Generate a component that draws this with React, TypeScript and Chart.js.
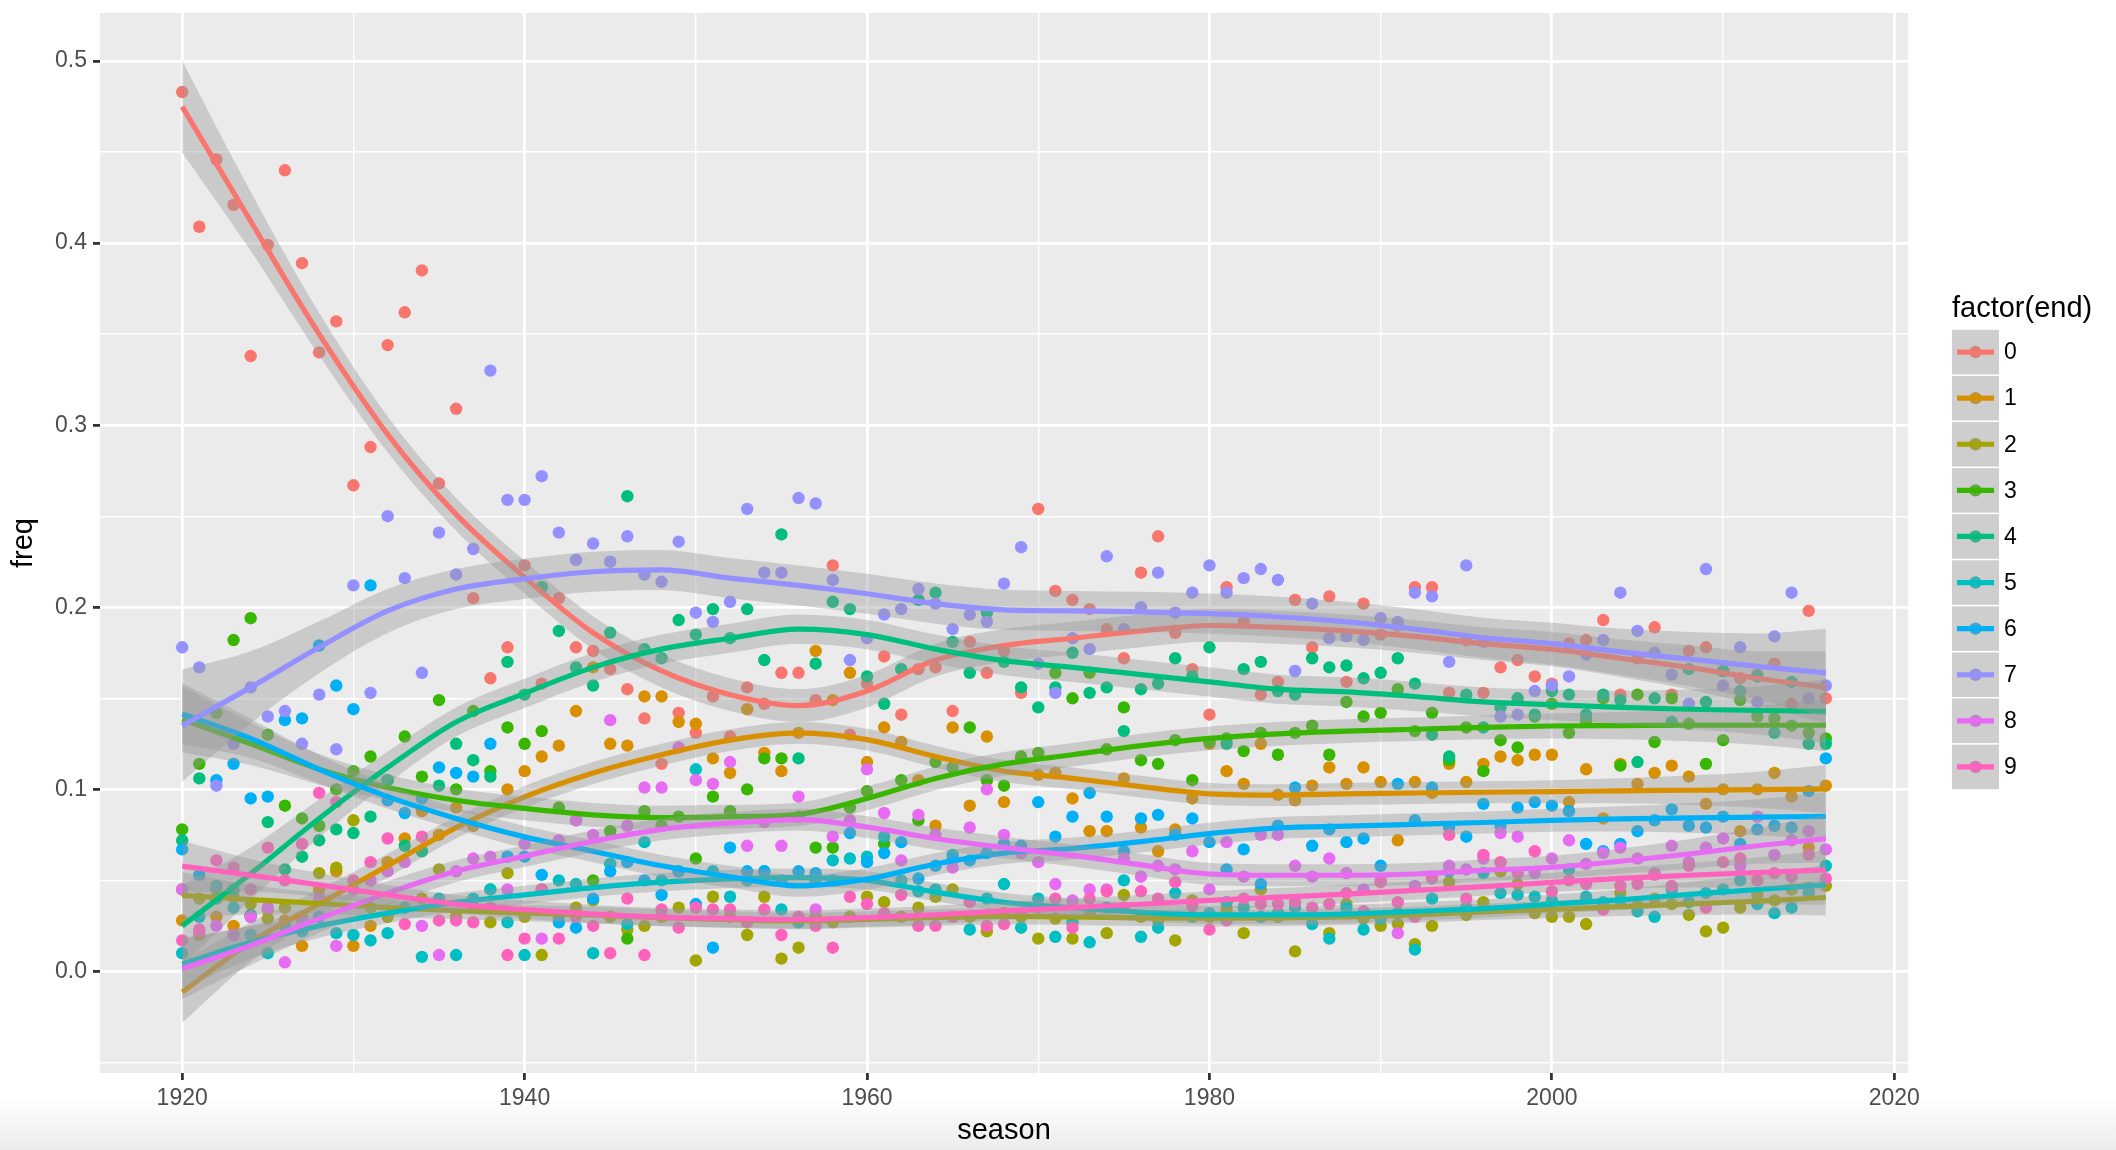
import React, { useEffect, useRef } from 'react';
import Chart from 'chart.js/auto';

const FONT = "'Liberation Sans', Arial, Helvetica, sans-serif";

// categories
const endFactors = ['0', '1', '2', '3', '4', '5', '6', '7', '8', '9'];
const colors = ['#F8766D', '#D89000', '#A3A500', '#39B600', '#00BF7D', '#00BFC4', '#00B0F6', '#9590FF', '#E76BF3', '#FF62BC'];
const seasons = Array.from({ length: 97 }, (_, i) => 1920 + i);

// tick breaks
const xTicks = [1920, 1930, 1940, 1950, 1960, 1970, 1980, 1990, 2000, 2010, 2020];
const yTicks = [-0.05, 0, 0.05, 0.1, 0.15, 0.2, 0.25, 0.3, 0.35, 0.4, 0.45, 0.5];

// observed freq per season (1920..2016) for each end
const end0 = [0.483,0.409,0.446,0.421,0.338,0.399,0.440,0.389,0.340,0.357,
  0.267,0.288,0.344,0.362,0.385,0.268,0.309,0.205,0.161,0.178,
  0.223,0.158,0.205,0.178,0.176,0.166,0.155,0.139,0.114,0.142,
  0.131,0.151,0.129,0.156,0.147,0.164,0.164,0.149,0.223,0.130,
  0.158,0.173,0.141,0.166,0.167,0.143,0.181,0.164,0.176,0.153,
  0.254,0.209,0.204,0.199,0.188,0.172,0.219,0.239,0.186,0.166,
  0.141,0.211,0.192,0.152,0.159,0.204,0.178,0.206,0.159,0.202,
  0.185,0.190,0.211,0.211,0.153,0.182,0.153,0.167,0.171,0.162,
  0.158,0.180,0.182,0.193,0.152,0.172,0.189,0.152,0.176,0.178,
  0.165,0.161,0.163,0.169,0.147,0.198,0.150];
const end1 = [0.028,0.020,0.030,0.025,0.030,0.034,0.028,0.014,0.045,0.055,
  0.014,0.025,0.060,0.073,0.088,0.075,0.090,0.080,0.045,0.100,
  0.110,0.118,0.124,0.143,0.167,0.125,0.124,0.151,0.151,0.137,
  0.136,0.117,0.109,0.144,0.120,0.110,0.131,0.176,0.149,0.164,
  0.115,0.134,0.126,0.105,0.080,0.134,0.091,0.129,0.093,0.117,
  0.108,0.109,0.095,0.077,0.077,0.106,0.079,0.066,0.078,0.095,
  0.125,0.110,0.103,0.125,0.097,0.094,0.102,0.112,0.103,0.112,
  0.104,0.072,0.104,0.098,0.114,0.104,0.114,0.118,0.116,0.119,
  0.119,0.093,0.111,0.084,0.114,0.103,0.109,0.113,0.107,0.092,
  0.100,0.077,0.100,0.109,0.096,0.068,0.102];
const end2 = [0.045,0.040,0.045,0.041,0.037,0.029,0.035,0.030,0.054,0.057,
  0.083,0.035,0.030,0.035,0.040,0.056,0.030,0.035,0.027,0.054,
  0.030,0.009,0.030,0.035,0.039,0.030,0.023,0.025,0.030,0.035,
  0.006,0.041,0.030,0.020,0.041,0.007,0.013,0.030,0.027,0.030,
  0.041,0.038,0.030,0.035,0.041,0.045,0.030,0.022,0.032,0.030,
  0.018,0.029,0.018,0.032,0.021,0.042,0.030,0.028,0.017,0.039,
  0.030,0.034,0.021,0.045,0.030,0.011,0.030,0.021,0.037,0.029,
  0.025,0.026,0.015,0.025,0.049,0.031,0.038,0.055,0.048,0.032,
  0.030,0.030,0.026,0.036,0.043,0.036,0.040,0.037,0.031,0.022,
  0.024,0.035,0.042,0.039,0.045,0.046,0.047];
const end3 = [0.078,0.114,0.142,0.182,0.194,0.130,0.091,0.084,0.080,0.100,
  0.110,0.118,0.105,0.129,0.107,0.149,0.100,0.143,0.110,0.134,
  0.125,0.132,0.090,0.083,0.050,0.077,0.018,0.088,0.080,0.085,
  0.062,0.096,0.088,0.100,0.117,0.117,0.085,0.068,0.068,0.090,
  0.099,0.070,0.105,0.083,0.115,0.112,0.134,0.105,0.102,0.118,
  0.120,0.164,0.150,0.164,0.122,0.145,0.116,0.114,0.127,0.105,
  0.126,0.128,0.121,0.131,0.119,0.131,0.135,0.119,0.148,0.140,
  0.142,0.155,0.132,0.142,0.116,0.134,0.110,0.127,0.123,0.140,
  0.147,0.131,0.138,0.150,0.113,0.152,0.126,0.150,0.136,0.114,
  0.127,0.149,0.140,0.139,0.135,0.131,0.128];
const end4 = [0.072,0.106,0.040,0.045,0.031,0.082,0.056,0.063,0.072,0.078,
  0.076,0.085,0.105,0.069,0.066,0.102,0.125,0.116,0.107,0.170,
  0.152,0.211,0.187,0.167,0.157,0.186,0.261,0.177,0.172,0.193,
  0.185,0.199,0.183,0.199,0.171,0.240,0.117,0.169,0.203,0.199,
  0.162,0.147,0.166,0.204,0.208,0.181,0.164,0.197,0.170,0.156,
  0.145,0.156,0.175,0.153,0.156,0.132,0.155,0.158,0.172,0.162,
  0.178,0.125,0.166,0.170,0.154,0.152,0.172,0.167,0.168,0.161,
  0.164,0.172,0.158,0.130,0.118,0.152,0.134,0.145,0.150,0.141,
  0.154,0.152,0.141,0.152,0.149,0.115,0.150,0.137,0.166,0.148,
  0.165,0.154,0.162,0.131,0.159,0.125,0.125];
const end5 = [0.010,0.030,0.047,0.035,0.020,0.010,0.025,0.022,0.030,0.021,
  0.020,0.017,0.021,0.035,0.008,0.040,0.009,0.040,0.045,0.027,
  0.009,0.045,0.050,0.048,0.010,0.059,0.026,0.071,0.050,0.055,
  0.111,0.055,0.041,0.050,0.055,0.034,0.027,0.050,0.061,0.062,
  0.063,0.074,0.050,0.044,0.045,0.064,0.023,0.040,0.048,0.024,
  0.040,0.019,0.027,0.016,0.035,0.050,0.019,0.024,0.043,0.030,
  0.032,0.038,0.035,0.030,0.032,0.035,0.026,0.018,0.035,0.023,
  0.029,0.032,0.012,0.040,0.055,0.035,0.054,0.043,0.042,0.041,
  0.039,0.056,0.041,0.038,0.039,0.033,0.030,0.045,0.038,0.043,
  0.045,0.050,0.037,0.032,0.035,0.043,0.058];
const end6 = [0.067,0.053,0.105,0.114,0.095,0.096,0.138,0.139,0.179,0.157,
  0.144,0.212,0.094,0.087,0.095,0.112,0.109,0.107,0.125,0.063,
  0.063,0.053,0.027,0.024,0.040,0.055,0.060,0.050,0.042,0.055,
  0.037,0.013,0.068,0.055,0.055,0.050,0.055,0.054,0.050,0.076,
  0.060,0.065,0.071,0.051,0.058,0.062,0.061,0.065,0.070,0.069,
  0.093,0.074,0.085,0.098,0.085,0.066,0.084,0.086,0.075,0.084,
  0.071,0.056,0.067,0.048,0.080,0.101,0.069,0.078,0.071,0.073,
  0.058,0.103,0.083,0.101,0.079,0.074,0.092,0.080,0.090,0.093,
  0.091,0.088,0.070,0.066,0.070,0.077,0.083,0.089,0.080,0.079,
  0.085,0.070,0.078,0.080,0.079,0.099,0.117];
const end7 = [0.178,0.167,0.102,0.125,0.156,0.140,0.143,0.125,0.152,0.122,
  0.212,0.153,0.250,0.216,0.164,0.241,0.218,0.232,0.330,0.259,
  0.259,0.272,0.241,0.226,0.235,0.225,0.239,0.218,0.214,0.236,
  0.197,0.192,0.203,0.254,0.219,0.219,0.260,0.257,0.215,0.171,
  0.183,0.196,0.199,0.210,0.202,0.188,0.196,0.192,0.213,0.233,
  0.169,0.153,0.183,0.177,0.228,0.188,0.200,0.219,0.197,0.208,
  0.223,0.208,0.216,0.221,0.215,0.165,0.202,0.183,0.184,0.182,
  0.194,0.192,0.208,0.206,0.170,0.223,0.181,0.140,0.141,0.154,
  0.157,0.162,0.174,0.182,0.208,0.187,0.175,0.163,0.147,0.221,
  0.157,0.178,0.148,0.184,0.208,0.150,0.157];
const end8 = [0.045,0.022,0.025,0.020,0.030,0.035,0.005,0.028,0.040,0.014,
  0.045,0.050,0.055,0.060,0.025,0.009,0.055,0.062,0.063,0.045,
  0.070,0.018,0.072,0.083,0.075,0.138,0.080,0.101,0.101,0.123,
  0.105,0.103,0.115,0.069,0.082,0.069,0.096,0.034,0.074,0.083,
  0.111,0.087,0.061,0.086,0.075,0.057,0.079,0.100,0.075,0.065,
  0.060,0.048,0.039,0.045,0.045,0.062,0.052,0.058,0.056,0.066,
  0.045,0.071,0.052,0.075,0.075,0.058,0.052,0.062,0.054,0.045,
  0.050,0.021,0.047,0.051,0.058,0.056,0.062,0.076,0.074,0.054,
  0.062,0.072,0.059,0.065,0.068,0.062,0.054,0.069,0.060,0.068,
  0.073,0.058,0.085,0.064,0.072,0.077,0.067];
const end9 = [0.017,0.023,0.061,0.057,0.045,0.068,0.050,0.070,0.098,0.093,
  0.050,0.060,0.073,0.026,0.074,0.028,0.028,0.027,0.035,0.009,
  0.018,0.045,0.018,0.030,0.025,0.010,0.040,0.009,0.034,0.024,
  0.035,0.034,0.034,0.027,0.034,0.020,0.030,0.025,0.013,0.041,
  0.037,0.032,0.042,0.025,0.025,0.030,0.038,0.025,0.026,0.032,
  0.035,0.040,0.024,0.040,0.044,0.035,0.044,0.040,0.049,0.036,
  0.023,0.028,0.040,0.037,0.037,0.038,0.035,0.037,0.043,0.033,
  0.049,0.038,0.030,0.052,0.075,0.040,0.064,0.060,0.054,0.066,
  0.044,0.050,0.048,0.034,0.047,0.048,0.053,0.047,0.058,0.035,
  0.060,0.062,0.050,0.054,0.052,0.064,0.051];

// smoothed (loess) curve read at these seasons
const smoothSeasons = [1920,1924,1928,1932,1936,1940,1944,1948,1952,1956,1960,1964,1968,1972,1976,1980,1984,1988,1992,1996,2000,2004,2008,2012,2016];
const fit0 = [0.475,0.412,0.350,0.295,0.251,0.2165,0.186,0.165,0.152,0.146,0.154,0.171,0.179,0.183,0.187,0.190,0.189,0.187,0.184,0.180,0.177,0.172,0.167,0.161,0.156];
const fit1 = [-0.0114,0.0161,0.037,0.058,0.079,0.0959,0.109,0.119,0.127,0.131,0.1273,0.118,0.110,0.106,0.1015,0.0975,0.0968,0.0975,0.098,0.0984,0.0987,0.0992,0.0995,0.0998,0.1002];
const fit2 = [0.0418,0.0394,0.0373,0.035,0.0333,0.032,0.031,0.0295,0.0285,0.0277,0.0286,0.0296,0.0302,0.030,0.0294,0.0292,0.0294,0.030,0.0311,0.0327,0.0341,0.0356,0.0371,0.0386,0.0406];
const fit3 = [0.1384,0.125,0.111,0.101,0.094,0.0895,0.086,0.0845,0.085,0.0863,0.095,0.106,0.114,0.119,0.124,0.128,0.1305,0.132,0.133,0.134,0.1348,0.135,0.1352,0.1352,0.1352];
const fit4 = [0.025,0.0537,0.084,0.112,0.137,0.1527,0.167,0.177,0.183,0.188,0.185,0.177,0.1707,0.167,0.163,0.159,0.155,0.1535,0.151,0.148,0.1465,0.145,0.144,0.1433,0.1429];
const fit5 = [0.004,0.016,0.025,0.032,0.038,0.042,0.046,0.049,0.0508,0.0515,0.050,0.0435,0.038,0.035,0.0325,0.031,0.031,0.0315,0.033,0.0345,0.037,0.0393,0.0423,0.045,0.0476];
const fit6 = [0.1414,0.128,0.111,0.096,0.084,0.0739,0.066,0.058,0.052,0.047,0.0507,0.059,0.065,0.0675,0.0713,0.0757,0.0788,0.0798,0.0808,0.0818,0.083,0.0838,0.0843,0.0847,0.0852];
const fit7 = [0.135,0.156,0.178,0.198,0.210,0.2156,0.2195,0.2205,0.216,0.212,0.2074,0.202,0.1986,0.198,0.1975,0.1965,0.1948,0.192,0.188,0.1833,0.180,0.1755,0.1716,0.1675,0.164];
const fit8 = [0.0015,0.0143,0.029,0.043,0.055,0.0633,0.0715,0.078,0.0815,0.0834,0.0793,0.073,0.068,0.0637,0.0585,0.0535,0.0528,0.0528,0.0535,0.0555,0.0572,0.0605,0.0645,0.069,0.0729];
const fit9 = [0.0578,0.0528,0.0475,0.042,0.037,0.0339,0.0315,0.0298,0.029,0.0285,0.0295,0.031,0.0332,0.035,0.0369,0.039,0.0408,0.0424,0.0445,0.0466,0.0489,0.0511,0.0528,0.0543,0.0557];

// confidence band half-width: per-series width in the middle, and its widening toward the ends
const bandWidth = [0.009, 0.006, 0.0045, 0.0065, 0.008, 0.005, 0.006, 0.011, 0.006, 0.005];
const bandShape = [2.8,1.8,1.3,1.1,1.0,1.0,1.0,1.0,1.0,1.0,1.0,1.0,1.0,1.0,1.0,1.0,1.0,1.0,1.0,1.0,1.05,1.15,1.35,1.65,2.2];

const points = [end0, end1, end2, end3, end4, end5, end6, end7, end8, end9];
const fits = [fit0, fit1, fit2, fit3, fit4, fit5, fit6, fit7, fit8, fit9];

const decor = {
  id: 'decor',
  beforeDraw(chart: any) {
    const { ctx, chartArea: a, width, height } = chart;
    ctx.save();
    ctx.fillStyle = '#ffffff';
    ctx.fillRect(0, 0, width, height);
    const g = ctx.createLinearGradient(0, 1095, 0, height);
    g.addColorStop(0, 'rgba(0,0,0,0)');
    g.addColorStop(1, 'rgba(0,0,0,0.075)');
    ctx.fillStyle = g;
    ctx.fillRect(0, 1095, width, height - 1095);
    ctx.fillStyle = '#EBEBEB';
    ctx.fillRect(a.left, a.top, a.right - a.left, a.bottom - a.top);
    ctx.restore();
  },
  afterDraw(chart: any) {
    const { ctx, chartArea: a } = chart;
    ctx.save();
    ctx.fillStyle = '#000000';
    ctx.font = `29px ${FONT}`;
    ctx.textAlign = 'center';
    ctx.textBaseline = 'middle';
    ctx.fillText('season', (a.left + a.right) / 2, 1131);
    ctx.save();
    ctx.translate(24, (a.top + a.bottom) / 2);
    ctx.rotate(-Math.PI / 2);
    ctx.fillText('freq', 0, 0);
    ctx.restore();

    // legend
    ctx.textAlign = 'left';
    ctx.fillText('factor(end)', 1952, 309);
    ctx.font = `23px ${FONT}`;
    const keyX = 1952, keyW = 47, keyH = 46.1, keyTop = 329;
    endFactors.forEach((lab, i) => {
      const y0 = keyTop + keyH * i;
      const cy = y0 + keyH / 2;
      ctx.fillStyle = '#F2F2F2';
      ctx.fillRect(keyX, y0 + 0.8, keyW, keyH - 1.6);
      ctx.fillStyle = colors[i];
      ctx.beginPath();
      ctx.arc(keyX + keyW / 2, cy, 6.2, 0, Math.PI * 2);
      ctx.fill();
      ctx.fillStyle = 'rgba(153,153,153,0.4)';
      ctx.fillRect(keyX, y0 + 0.8, keyW, keyH - 1.6);
      ctx.strokeStyle = colors[i];
      ctx.lineWidth = 5.2;
      ctx.beginPath();
      ctx.moveTo(keyX + 5, cy);
      ctx.lineTo(keyX + keyW - 5, cy);
      ctx.stroke();
      ctx.fillStyle = '#000000';
      ctx.fillText(lab, 2004, cy + 1);
    });
    ctx.restore();
  },
};

export default function App() {
  const ref = useRef<HTMLCanvasElement>(null);
  useEffect(() => {
    document.body.style.margin = '0';
    const canvas = ref.current!;
    const datasets: any[] = [];
    points.forEach((vals, s) => {
      datasets.push({
        type: 'scatter',
        data: seasons.map((x, i) => ({ x, y: vals[i] })),
        backgroundColor: colors[s],
        borderWidth: 0,
        pointRadius: 6.2,
        pointHoverRadius: 6.2,
        order: 1000 - s,
      });
    });
    fits.forEach((f, s) => {
      const upper = smoothSeasons.map((x, i) => ({ x, y: f[i] + bandWidth[s] * bandShape[i] }));
      const lower = smoothSeasons.map((x, i) => ({ x, y: f[i] - bandWidth[s] * bandShape[i] }));
      const common = { pointRadius: 0, cubicInterpolationMode: 'monotone' };
      datasets.push({
        type: 'line', data: upper, ...common,
        borderWidth: 0, borderColor: 'rgba(0,0,0,0)',
        backgroundColor: 'rgba(153,153,153,0.4)', fill: '+1', order: 500 - 3 * s,
      });
      datasets.push({
        type: 'line', data: lower, ...common,
        borderWidth: 0, borderColor: 'rgba(0,0,0,0)', fill: false, order: 499 - 3 * s,
      });
      datasets.push({
        type: 'line', data: smoothSeasons.map((x, i) => ({ x, y: f[i] })), ...common,
        borderWidth: 5.2, borderColor: colors[s], fill: false, order: 498 - 3 * s,
        borderCapStyle: 'butt',
      });
    });

    const isMajorX = (v: number) => Math.round(v) % 20 === 0;
    const isMajorY = (v: number) => Math.round(v * 100) % 10 === 0;

    const chart = new Chart(canvas, {
      type: 'scatter',
      data: { datasets },
      plugins: [decor],
      options: {
        responsive: false,
        animation: false,
        events: [],
        layout: { padding: { top: 13, right: 208, bottom: 0, left: 0 } },
        plugins: { legend: { display: false }, tooltip: { enabled: false }, title: { display: false } },
        scales: {
          x: {
            type: 'linear',
            min: 1915.2,
            max: 2020.8,
            afterBuildTicks: (sc: any) => { sc.ticks = xTicks.map((v) => ({ value: v })); },
            afterFit: (sc: any) => { sc.height = 77; sc.paddingLeft = 0; sc.paddingRight = 0; },
            border: { display: false },
            grid: {
              color: '#ffffff',
              lineWidth: (c: any) => (isMajorX(c.tick.value) ? 2.8 : 1.4),
              tickLength: 7,
              tickWidth: 2.8,
              tickColor: (c: any) => (isMajorX(c.tick.value) ? '#333333' : 'rgba(0,0,0,0)'),
            },
            ticks: {
              autoSkip: false,
              maxRotation: 0,
              padding: 5,
              color: '#4D4D4D',
              font: { family: FONT, size: 23 },
              callback: (v: any) => (isMajorX(Number(v)) ? String(Math.round(Number(v))) : ''),
            },
          },
          y: {
            type: 'linear',
            min: -0.0558,
            max: 0.5264,
            afterBuildTicks: (sc: any) => { sc.ticks = yTicks.map((v) => ({ value: v })); },
            afterFit: (sc: any) => { sc.width = 100; sc.paddingTop = 0; sc.paddingBottom = 0; },
            border: { display: false },
            grid: {
              color: '#ffffff',
              lineWidth: (c: any) => (isMajorY(c.tick.value) ? 2.8 : 1.4),
              tickLength: 7,
              tickWidth: 2.8,
              tickColor: (c: any) => (isMajorY(c.tick.value) ? '#333333' : 'rgba(0,0,0,0)'),
            },
            ticks: {
              autoSkip: false,
              padding: 6,
              color: '#4D4D4D',
              font: { family: FONT, size: 23 },
              callback: (v: any) => (isMajorY(Number(v)) ? Number(v).toFixed(1) : ''),
            },
          },
        },
      } as any,
    });
    return () => chart.destroy();
  }, []);
  return (
    <div style={{ width: 2116, height: 1150, background: '#ffffff' }}>
      <canvas ref={ref} width={2116} height={1150} style={{ display: 'block', width: 2116, height: 1150 }} />
    </div>
  );
}
